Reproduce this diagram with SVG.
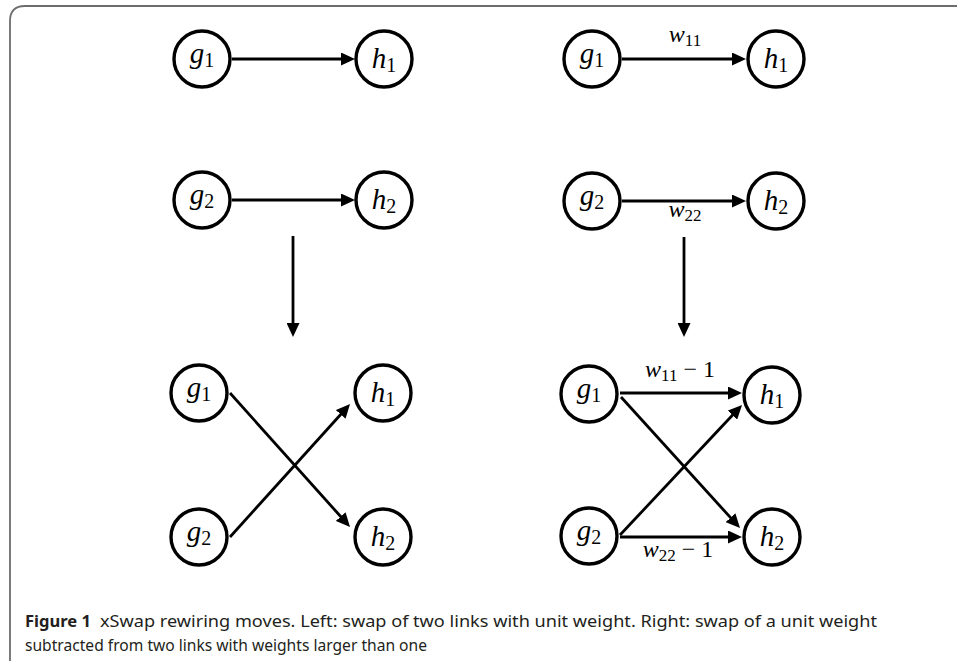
<svg xmlns="http://www.w3.org/2000/svg" width="957" height="661" viewBox="0 0 957 661">
<style>
.node circle{fill:#fff;stroke:#000;stroke-width:3.4}
.lab{font-family:"Liberation Serif",serif;font-style:italic;font-size:29px;fill:#000;text-anchor:middle}
.sub{font-style:normal;font-size:20px}
.el{font-family:"Liberation Serif",serif;font-style:italic;font-size:24px;fill:#000;text-anchor:middle}
.esub{font-style:normal;font-size:17px}
.op{font-style:normal}
.edge{stroke:#000;stroke-width:2.8;fill:none;marker-end:url(#ah)}
.cap{font-family:"Noto Sans","Open Sans",sans-serif;font-size:16px;fill:#231f20}
</style>
<defs>
<marker id="ah" markerUnits="userSpaceOnUse" markerWidth="15" markerHeight="13" refX="3" refY="6.5" orient="auto">
<path d="M0,0 L14,6.5 L0,13 z" fill="#000"/>
</marker>
</defs>
<path d="M10,661 V21 Q10,6 25,6 H957" fill="none" stroke="#6d6d6d" stroke-width="1.8"/>

<g id="connectors">
<path class="edge" d="M232,59 H344"/>
<path class="edge" d="M232,200 H344"/>
<path class="edge" d="M293,236 V326"/>
<path class="edge" d="M622,59 H735"/>
<path class="edge" d="M622,201 H735"/>
<path class="edge" d="M684,237 V326"/>
<path class="edge" d="M230,393 L342.7,518.8"/>
<path class="edge" d="M230,537 L342.7,412.2"/>
<path class="edge" d="M620,393 H731"/>
<path class="edge" d="M620,537 H731"/>
<path class="edge" d="M621,397 L732.6,519.9"/>
<path class="edge" d="M620,535 L734.5,413.0"/>
</g>

<g id="edge-labels">
<text class="el" x="685" y="42">w<tspan class="esub" dy="4">11</tspan></text>
<text class="el" x="685" y="217">w<tspan class="esub" dy="4">22</tspan></text>
<text class="el" x="680" y="377">w<tspan class="esub" dy="4">11</tspan><tspan class="op" dy="-4"> − 1</tspan></text>
<text class="el" x="678" y="557">w<tspan class="esub" dy="4">22</tspan><tspan class="op" dy="-4"> − 1</tspan></text>
</g>

<g id="L-g1" class="node"><circle cx="202" cy="59" r="28"/><text class="lab" x="202" y="63">g<tspan class="sub" dy="4">1</tspan></text></g>
<g id="L-h1" class="node"><circle cx="384" cy="59" r="28"/><text class="lab" x="384" y="68">h<tspan class="sub" dy="4">1</tspan></text></g>
<g id="L-g2" class="node"><circle cx="202" cy="200" r="28"/><text class="lab" x="202" y="204">g<tspan class="sub" dy="4">2</tspan></text></g>
<g id="L-h2" class="node"><circle cx="384" cy="200" r="28"/><text class="lab" x="384" y="209">h<tspan class="sub" dy="4">2</tspan></text></g>

<g id="R-g1" class="node"><circle cx="592" cy="59" r="28"/><text class="lab" x="592" y="63">g<tspan class="sub" dy="4">1</tspan></text></g>
<g id="R-h1" class="node"><circle cx="776" cy="59" r="28"/><text class="lab" x="776" y="68">h<tspan class="sub" dy="4">1</tspan></text></g>
<g id="R-g2" class="node"><circle cx="592" cy="201" r="28"/><text class="lab" x="592" y="205">g<tspan class="sub" dy="4">2</tspan></text></g>
<g id="R-h2" class="node"><circle cx="776" cy="201" r="28"/><text class="lab" x="776" y="210">h<tspan class="sub" dy="4">2</tspan></text></g>

<g id="LB-g1" class="node"><circle cx="199" cy="393" r="28"/><text class="lab" x="199" y="397">g<tspan class="sub" dy="4">1</tspan></text></g>
<g id="LB-h1" class="node"><circle cx="383" cy="393" r="28"/><text class="lab" x="383" y="402">h<tspan class="sub" dy="4">1</tspan></text></g>
<g id="LB-g2" class="node"><circle cx="199" cy="537" r="28"/><text class="lab" x="199" y="541">g<tspan class="sub" dy="4">2</tspan></text></g>
<g id="LB-h2" class="node"><circle cx="383" cy="537" r="28"/><text class="lab" x="383" y="546">h<tspan class="sub" dy="4">2</tspan></text></g>

<g id="RB-g1" class="node"><circle cx="589" cy="394" r="28"/><text class="lab" x="589" y="398">g<tspan class="sub" dy="4">1</tspan></text></g>
<g id="RB-h1" class="node"><circle cx="772" cy="395" r="28"/><text class="lab" x="772" y="404">h<tspan class="sub" dy="4">1</tspan></text></g>
<g id="RB-g2" class="node"><circle cx="589" cy="536" r="28"/><text class="lab" x="589" y="540">g<tspan class="sub" dy="4">2</tspan></text></g>
<g id="RB-h2" class="node"><circle cx="772" cy="537" r="28"/><text class="lab" x="772" y="546">h<tspan class="sub" dy="4">2</tspan></text></g>

<g id="caption">
<text class="cap" x="25" y="627" font-weight="bold" textLength="66" lengthAdjust="spacingAndGlyphs">Figure 1</text>
<text class="cap" x="100" y="627" textLength="777" lengthAdjust="spacingAndGlyphs">xSwap rewiring moves. Left: swap of two links with unit weight. Right: swap of a unit weight</text>
<text class="cap" x="25" y="651" textLength="402" lengthAdjust="spacingAndGlyphs">subtracted from two links with weights larger than one</text>
</g>
</svg>
